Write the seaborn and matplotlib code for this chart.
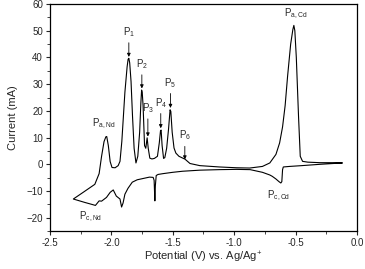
import matplotlib
matplotlib.use("Agg")
import matplotlib.pyplot as plt
import seaborn as sns
import pandas as pd

# cathodic sweep (-0.12 V -> -2.31 V), lower branch
v_cath = [-0.12, -0.30, -0.45, -0.55, -0.60, -0.606, -0.612, -0.62, -0.635, -0.66,
          -0.69, -0.71, -0.77, -0.87, -0.98, -1.12, -1.28, -1.42, -1.50, -1.58,
          -1.62, -1.635, -1.642, -1.646, -1.652, -1.66, -1.69, -1.74, -1.79, -1.83,
          -1.865, -1.89, -1.905, -1.917, -1.93, -1.96, -1.985, -2.01, -2.04, -2.08,
          -2.10, -2.13, -2.16, -2.215, -2.31]
i_cath = [0.5, 0.0, -0.5, -0.8, -1.0, -2.0, -6.5, -7.0, -6.5, -5.5,
          -4.5, -4.0, -3.0, -2.0, -1.9, -2.0, -2.2, -2.6, -3.0, -3.5,
          -3.8, -4.2, -8.0, -13.7, -6.0, -4.9, -4.8, -5.3, -5.8, -6.7,
          -9.0, -11.2, -14.5, -16.0, -13.0, -11.9, -9.6, -10.5, -12.4, -13.8,
          -13.7, -15.4, -15.0, -14.3, -13.0]

# anodic sweep (-2.31 V -> -0.12 V), upper branch
v_anod = [-2.31, -2.23, -2.135, -2.10, -2.08, -2.06, -2.045, -2.038, -2.025, -2.01,
          -1.995, -1.97, -1.945, -1.93, -1.915, -1.89, -1.872, -1.864, -1.858, -1.851,
          -1.84, -1.828, -1.815, -1.80, -1.785, -1.77, -1.76, -1.754, -1.749, -1.742,
          -1.73, -1.72, -1.709, -1.70, -1.687, -1.67, -1.65, -1.625, -1.61, -1.600,
          -1.595, -1.587, -1.575, -1.565, -1.55, -1.535, -1.522, -1.516, -1.505, -1.49,
          -1.475, -1.45, -1.40, -1.36, -1.28, -1.12, -0.98, -0.874, -0.77, -0.71,
          -0.66, -0.63, -0.606, -0.585, -0.565, -0.54, -0.522, -0.514, -0.506, -0.494,
          -0.476, -0.462, -0.443, -0.40, -0.30, -0.20, -0.12]
i_anod = [-13.0, -10.5, -7.5, -3.5, 3.0, 8.5, 10.3, 10.4, 7.0, 1.0,
          -1.2, -1.3, -0.5, 1.1, 8.6, 27.0, 36.5, 39.3, 39.7, 38.0,
          31.0, 18.0, 6.0, 0.5, 3.0, 12.0, 23.0, 27.8, 27.0, 22.0,
          7.0, 6.0, 9.9, 6.0, 2.3, 2.0, 2.2, 3.0, 8.0, 12.6,
          12.8, 7.0, 2.2, 2.5, 6.0, 13.0, 20.4, 19.8, 12.0, 6.1,
          4.2, 3.0, 1.9, 0.3, -0.5, -1.0, -1.3, -1.4, -0.8, 0.5,
          3.7, 8.0, 14.0, 22.0, 33.0, 45.0, 50.5, 52.0, 50.0, 40.0,
          18.0, 3.0, 1.1, 0.8, 0.6, 0.6, 0.5]

x_ticks = [-2.5, -2.0, -1.5, -1.0, -0.5, 0.0]
y_ticks = [-20, -10, 0, 10, 20, 30, 40, 50, 60]

# peak labels: (text, label x, label y, arrow start y, arrow tip y)
arrow_peaks = [("1", -1.858, 47.0, 45.5, 40.2),
               ("2", -1.752, 35.0, 33.5, 28.4),
               ("3", -1.703, 18.5, 17.0, 10.4),
               ("4", -1.598, 20.5, 19.0, 13.5),
               ("5", -1.519, 28.0, 26.5, 21.1),
               ("6", -1.402, 8.2, 6.7, 1.8)]

sns.set_style("ticks")
plt.rcParams["font.family"] = ["Liberation Sans", "DejaVu Sans"]
plt.rcParams["mathtext.fontset"] = "custom"
plt.rcParams["mathtext.rm"] = "Liberation Sans"
plt.rcParams["mathtext.it"] = "Liberation Sans"

df = pd.DataFrame({"V": v_cath + v_anod, "I": i_cath + i_anod})

fig, ax = plt.subplots(figsize=(3.65, 2.69), dpi=100)
fig.subplots_adjust(left=0.137, right=0.978, top=0.985, bottom=0.141)

sns.lineplot(data=df, x="V", y="I", sort=False, estimator=None, color="black",
             linewidth=0.8, ax=ax)

ax.set_xlim(-2.5, 0.0)
ax.set_ylim(-25, 60)
ax.set_xticks(x_ticks)
ax.set_xticklabels([f"{t:.1f}" for t in x_ticks])
ax.set_yticks(y_ticks)
ax.set_xticks([-2.25, -1.75, -1.25, -0.75, -0.25], minor=True)
ax.set_yticks([-25, -15, -5, 5, 15, 25, 35, 45, 55], minor=True)
ax.tick_params(which="major", direction="out", length=3, width=0.8, labelsize=7, pad=2)
ax.tick_params(which="minor", direction="out", length=2, width=0.6)
for s in ax.spines.values():
    s.set_linewidth(0.9)
    s.set_color("black")

ax.set_xlabel("Potential (V) vs. Ag/Ag$^{+}$", fontsize=8, labelpad=1)
ax.set_ylabel("Current (mA)", fontsize=8, labelpad=6)

for num, x, ly, y0, y1 in arrow_peaks:
    ax.text(x, ly, "P$_{" + num + "}$", fontsize=7, ha="center", va="bottom")
    ax.annotate("", xy=(x, y1), xytext=(x, y0),
                arrowprops=dict(arrowstyle="-|>", lw=0.6, color="black",
                                mutation_scale=5, shrinkA=0, shrinkB=0))

ax.text(-2.06, 12.5, "P$_{a,Nd}$", fontsize=7, ha="center", va="bottom")
ax.text(-2.17, -17.0, "P$_{c,Nd}$", fontsize=7, ha="center", va="top")
ax.text(-0.50, 53.5, "P$_{a,Cd}$", fontsize=7, ha="center", va="bottom")
ax.text(-0.64, -9.0, "P$_{c,Cd}$", fontsize=7, ha="center", va="top")

fig.savefig("out.png", dpi=100)
